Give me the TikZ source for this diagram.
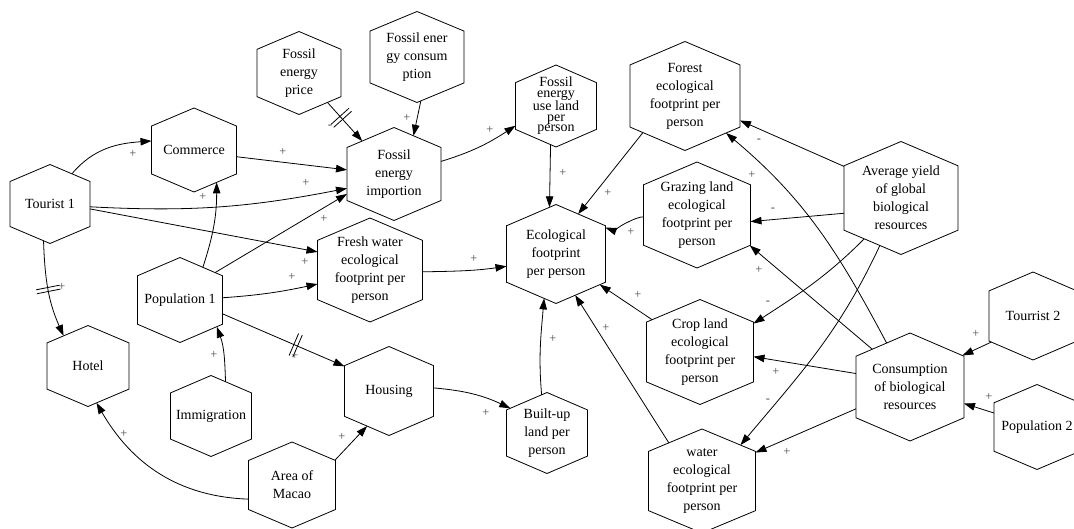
\documentclass[tikz,border=0pt]{standalone}
\usepackage{fontspec}
\setmainfont{Liberation Serif}
\usetikzlibrary{arrows.meta,decorations.markings}
\makeatletter
\pgfdeclareshape{hexv}{%
  \inheritsavedanchors[from=rectangle]%
  \inheritanchor[from=rectangle]{center}%
  \inheritanchor[from=rectangle]{north}%
  \inheritanchor[from=rectangle]{south}%
  \inheritanchor[from=rectangle]{east}%
  \inheritanchor[from=rectangle]{west}%
  \backgroundpath{%
    \southwest \edef\hexL{\the\pgf@x}\edef\hexB{\the\pgf@y}%
    \northeast \edef\hexR{\the\pgf@x}\edef\hexT{\the\pgf@y}%
    \pgfmathsetlengthmacro\hexC{((\hexL)+(\hexR))/2}%
    \pgfmathsetlengthmacro\hexU{0.785*(\hexT)+0.215*(\hexB)}%
    \pgfmathsetlengthmacro\hexD{0.215*(\hexT)+0.785*(\hexB)}%
    \pgfpathmoveto{\pgfqpoint{\hexC}{\hexT}}%
    \pgfpathlineto{\pgfqpoint{\hexR}{\hexU}}%
    \pgfpathlineto{\pgfqpoint{\hexR}{\hexD}}%
    \pgfpathlineto{\pgfqpoint{\hexC}{\hexB}}%
    \pgfpathlineto{\pgfqpoint{\hexL}{\hexD}}%
    \pgfpathlineto{\pgfqpoint{\hexL}{\hexU}}%
    \pgfpathclose
  }%
  \anchorborder{%
    \edef\hexDX{\the\pgf@x}\edef\hexDY{\the\pgf@y}%
    \southwest \edef\hexL{\the\pgf@x}\edef\hexB{\the\pgf@y}%
    \northeast \edef\hexR{\the\pgf@x}\edef\hexT{\the\pgf@y}%
    \pgfmathsetmacro\hexA{((\hexR)-(\hexL))/2}%
    \pgfmathsetmacro\hexH{((\hexT)-(\hexB))/2}%
    \pgfmathsetmacro\hexCX{((\hexR)+(\hexL))/2}%
    \pgfmathsetmacro\hexCY{((\hexT)+(\hexB))/2}%
    \pgfmathsetmacro\hexAng{atan2(\hexDY,\hexDX)}%
    \pgfmathsetmacro\hexUX{abs(cos(\hexAng))}%
    \pgfmathsetmacro\hexUY{abs(sin(\hexAng))}%
    \pgfmathsetmacro\hexTT{\hexH/(\hexUX*0.43*\hexH/\hexA+\hexUY)}%
    \pgfmathsetmacro\hexTV{\hexA/max(\hexUX,0.01)}%
    \pgfmathsetmacro\hexTF{min(\hexTT,\hexTV)}%
    \pgfmathsetmacro\hexPX{\hexCX+\hexTF*cos(\hexAng)}%
    \pgfmathsetmacro\hexPY{\hexCY+\hexTF*sin(\hexAng)}%
    \pgf@x=\hexPX pt\relax
    \pgf@y=\hexPY pt\relax
  }%
}
\makeatother
\tikzset{
  hx/.style={shape=hexv, draw, line width=0.8pt, inner sep=0pt, outer sep=0pt,
    align=center, font=\rmfamily\fontsize{14}{18}\selectfont},
  hs/.style 2 args={minimum width=#1pt, minimum height=#2pt},
  arr/.style={draw, line width=0.8pt, -{Triangle[length=11pt,width=7.5pt]}},
  lbl/.style={font=\rmfamily\fontsize{12.5}{12.5}\selectfont, text=black!70, inner sep=0pt},
  dsl/.style={postaction={decorate,decoration={markings,
    mark=at position #1 with {\draw[-,line width=0.8pt] (-2pt,-12pt) -- (-2pt,12pt) (2pt,-12pt) -- (2pt,12pt);}}}}
}
\begin{document}
\begin{tikzpicture}[x=1pt,y=1pt]
\useasboundingbox (0,0) rectangle (1074,-529);
% nodes
\node[hx,hs={80}{79}]   (t1)    at (50,-204)  {Tourist 1};
\node[hx,hs={85}{84}]   (com)   at (194,-150) {Commerce};
\node[hx,hs={84}{83}]   (fep)   at (299,-73)  {Fossil\\energy\\price};
\node[hx,hs={94}{91}]   (fec)   at (417,-57)  {Fossil ener\\gy consum\\ption};
\node[hx,hs={94}{93}]   (fei)   at (394,-174) {Fossil\\energy\\importion};
\node[hx,hs={81}{82},font=\rmfamily\fontsize{14}{10.5}\selectfont] (ful) at (556,-106) {Fossil\\energy\\use land\\per\\person};
\node[hx,hs={110}{109}] (forest) at (685,-96) {Forest\\ecological\\footprint per\\person};
\node[hx,hs={114}{113}] (avg)   at (901,-198) {Average yield\\of global\\biological\\resources};
\node[hx,hs={107}{106}] (grz)   at (697,-215) {Grazing land\\ecological\\footprint per\\person};
\node[hx,hs={99}{99}]   (eco)   at (556,-254) {Ecological\\footprint\\per person};
\node[hx,hs={105}{104}] (fw)    at (370,-270) {Fresh water\\ecological\\footprint per\\person};
\node[hx,hs={85}{85}]   (pop1)  at (180,-300) {Population 1};
\node[hx,hs={82}{81}]   (hot)   at (88,-366)  {Hotel};
\node[hx,hs={81}{81}]   (imm)   at (211,-416) {Immigration};
\node[hx,hs={89}{89}]   (hou)   at (389,-391) {Housing};
\node[hx,hs={87}{86}]   (mac)   at (292,-485) {Area of\\Macao};
\node[hx,hs={81}{81}]   (blt)   at (547,-433) {Built-up\\land per\\person};
\node[hx,hs={107}{105}] (crp)   at (700,-352) {Crop land\\ecological\\footprint per\\person};
\node[hx,hs={107}{104}] (wat)   at (702,-481) {water\\ecological\\footprint per\\person};
\node[hx,hs={108}{108}] (con)   at (910,-387) {Consumption\\of biological\\resources};
\node[hx,hs={88}{88}]   (tr2)   at (1033,-316) {Tourrist 2};
\node[hx,hs={86}{85}]   (pop2)  at (1037,-427) {Population 2};
% connectors
\draw[arr] (t1.54) to[out=50,in=184] (com.168);
\draw[arr] (com.-9) -- (fei.175);
\draw[arr] (t1.-4) to[out=-3,in=191] (fei.197);
\draw[arr] (t1.-7) -- (fw.161);
\draw[arr] (pop1.55) to[out=72,in=-90] (com.-55);
\draw[arr] (pop1.38) -- (fei.203);
\draw[arr] (pop1.3) to[out=4,in=192] (fw.195);
\draw[arr,dsl=0.6] (pop1.-18) -- (hou.151);
\draw[arr] (imm.67) to[out=92,in=-70] (pop1.-36);
\draw[arr,dsl=0.5] (t1.-100) to[out=-88,in=114] (hot.129);
\draw[arr] (mac.198) to[out=178,in=-60] (hot.-77);
\draw[arr] (mac.30) -- (hou.-122);
\draw[arr] (hou.4) to[out=-5,in=155] (blt.146);
\draw[arr] (blt.98) to[out=95,in=-95] (eco.-105);
\draw[arr] (fw.-2) to[out=1,in=188] (eco.194);
\draw[arr] (fei.15) to[out=17,in=213] (ful.206);
\draw[arr] (fec.-85) -- (fei.63);
\draw[arr,dsl=0.4] (fep.-46) -- (fei.134);
\draw[arr] (ful.-98) -- (eco.98);
\draw[arr] (forest.221) -- (eco.61);
\draw[arr] (grz.182) to[out=172,in=-20,looseness=0.4] (eco.28);
\draw[arr] (crp.146) -- (eco.-35);
\draw[arr] (wat.131) -- (eco.-65);
\draw[arr] (avg.151) -- (forest.-24);
\draw[arr] (con.118) to[out=118,in=-40] (forest.-42);
\draw[arr] (avg.195) -- (grz.-7);
\draw[arr] (con.135) -- (grz.-30);
\draw[arr] (avg.-132) to[out=225,in=33] (crp.28);
\draw[arr] (con.166) -- (crp.-5);
\draw[arr] (avg.-114) to[out=245,in=50] (wat.43);
\draw[arr] (con.202) -- (wat.28);
\draw[arr] (tr2.212) -- (con.31);
\draw[arr] (pop2.162) -- (con.-17);
% polarity labels
\node[lbl] (l1)  at (133,-154) {+};
\node[lbl] (l2)  at (283,-152) {+};
\node[lbl] (l3)  at (306,-183) {+};
\node[lbl] (l4)  at (305,-262) {+};
\node[lbl] (l5)  at (203,-197) {+};
\node[lbl] (l6)  at (324,-219) {+};
\node[lbl] (l7)  at (292,-277) {+};
\node[lbl] (l8)  at (295,-356) {+};
\node[lbl] (l9)  at (214,-355) {+};
\node[lbl] (l10) at (62,-287)  {+};
\node[lbl] (l11) at (124,-434) {+};
\node[lbl] (l12) at (342,-437) {+};
\node[lbl] (l13) at (486,-413) {+};
\node[lbl] (l14) at (553,-339) {+};
\node[lbl] (l15) at (474,-259) {+};
\node[lbl] (l16) at (490,-130) {+};
\node[lbl] (l17) at (407,-118) {+};
\node[lbl] (l18) at (330,-127) {-};
\node[lbl] (l19) at (563,-173) {+};
\node[lbl] (l20) at (608,-193) {+};
\node[lbl] (l21) at (631,-232) {+};
\node[lbl] (l22) at (638,-295) {+};
\node[lbl] (l23) at (606,-328) {+};
\node[lbl] (l24) at (759,-141) {-};
\node[lbl] (l25) at (752,-175) {+};
\node[lbl] (l26) at (773,-210) {-};
\node[lbl] (l27) at (759,-270) {+};
\node[lbl] (l28) at (768,-303) {-};
\node[lbl] (l29) at (776,-372) {+};
\node[lbl] (l30) at (768,-401) {-};
\node[lbl] (l31) at (787,-452) {+};
\node[lbl] (l32) at (976,-334) {+};
\node[lbl] (l33) at (989,-397) {+};
\end{tikzpicture}
\end{document}
